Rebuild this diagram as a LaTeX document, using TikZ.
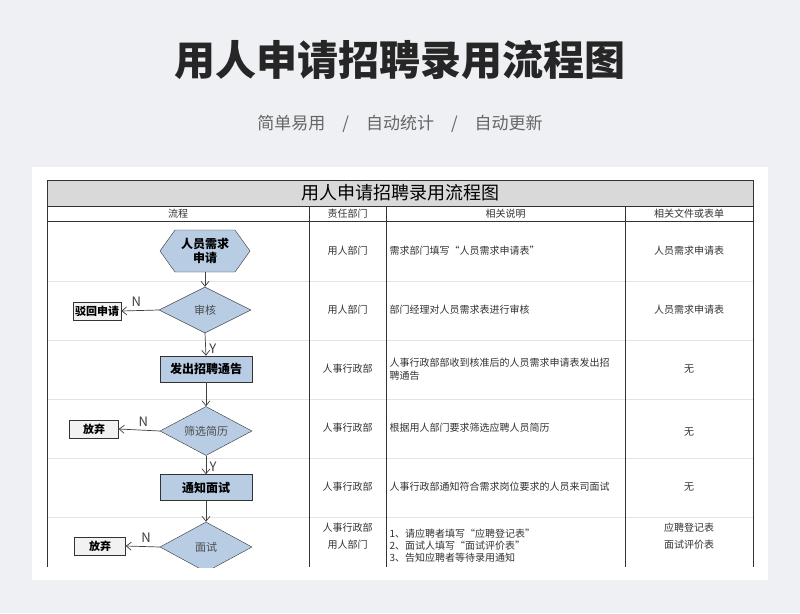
\documentclass[tikz,border=0pt]{standalone}
\usepackage{fontspec}
\setmainfont{Noto Sans CJK SC}
\usetikzlibrary{shapes.geometric,positioning,arrows.meta}
\definecolor{pagebg}{HTML}{EEF0F4}
\definecolor{flowblue}{HTML}{B8CCE4}
\definecolor{headgray}{HTML}{D9D9D9}
\definecolor{rowline}{HTML}{E4E4E4}
\tikzset{
  proc/.style={draw=black!80, fill=flowblue, minimum width=92pt, minimum height=26pt, font=\fontsize{12}{14}\selectfont\bfseries, inner sep=1pt},
  decide/.style={diamond, aspect=2, draw=black!80, fill=flowblue, minimum width=92pt, minimum height=46pt, inner sep=0pt, font=\fontsize{11}{13}\selectfont, text=black!70},
  sidebox/.style={draw=black!80, fill=black!5, minimum height=18pt, inner sep=2pt, font=\fontsize{11}{13}\selectfont\bfseries},
  cell/.style={font=\fontsize{10}{13}\selectfont, text=black!80},
  flow/.style={-{Straight Barb[length=5pt,width=8pt]}, black!75, line width=0.7pt},
  yn/.style={font=\fontsize{13}{15}\selectfont}
}
\begin{document}
\begin{tikzpicture}[x=1pt, y=-1pt]
    % page and card
    \fill[pagebg] (0,0) rectangle (800,613);
    \useasboundingbox (0,0) rectangle (800,613);
    \fill[white] (32,167) rectangle (768,580);
    \node[font=\fontsize{41}{44}\selectfont\bfseries, text=black!85] (maintitle) at (400,60) {用人申请招聘录用流程图};
    \node[font=\fontsize{17}{20}\selectfont, text=black!60] (subtitle) at (400,124) {简单易用\quad /\quad 自动统计\quad /\quad 自动更新};

    % table frame
    \fill[headgray] (47,180) rectangle (753,206);
    \foreach \y in {281,340,399,458,517}
        \draw[rowline] (47,\y) -- (753,\y);
    \draw[black!80] (47,206) -- (753,206);
    \draw[black!80] (47,221) -- (753,221);
    \draw[black!80, thick] (47,567) -- (47,180) -- (753,180) -- (753,567);
    \foreach \x in {309,386,625}
        \draw[black!80] (\x,206) -- (\x,567);
    \node[font=\fontsize{18}{20}\selectfont] (tabtitle) at (400,193) {用人申请招聘录用流程图};
    \node[cell] (h1) at (178,213.5) {流程};
    \node[cell] (h2) at (347.5,213.5) {责任部门};
    \node[cell] (h3) at (505.5,213.5) {相关说明};
    \node[cell] (h4) at (689,213.5) {相关文件或表单};

    % departments
    \node[cell] (d1) at (347.5,251) {用人部门};
    \node[cell] (d2) at (347.5,310) {用人部门};
    \node[cell] (d3) at (347.5,369) {人事行政部};
    \node[cell] (d4) at (347.5,428) {人事行政部};
    \node[cell] (d5) at (347.5,487) {人事行政部};
    \node[cell, align=center] (d6) at (347.5,536) {人事行政部\\[4pt]用人部门};

    % notes
    \node[cell, anchor=west] (n1) at (386,251) {需求部门填写“人员需求申请表”};
    \node[cell, anchor=west] (n2) at (386,310) {部门经理对人员需求表进行审核};
    \node[cell, anchor=west, align=left] (n3) at (386,369) {人事行政部部收到核准后的人员需求申请表发出招\\聘通告};
    \node[cell, anchor=west] (n4) at (386,428) {根据用人部门要求筛选应聘人员简历};
    \node[cell, anchor=west] (n5) at (386,487) {人事行政部通知符合需求岗位要求的人员来司面试};
    \node[cell, anchor=west, align=left, font=\fontsize{10}{12}\selectfont] (n6) at (386,546) {1、请应聘者填写“应聘登记表”\\2、面试人填写“面试评价表”\\3、告知应聘者等待录用通知};

    % forms
    \node[cell] (f1) at (689,251) {人员需求申请表};
    \node[cell] (f2) at (689,310) {人员需求申请表};
    \node[cell] (f3) at (689,369) {无};
    \node[cell] (f4) at (689,432) {无};
    \node[cell] (f5) at (689,487) {无};
    \node[cell, align=center] (f6) at (689,536) {应聘登记表\\[4pt]面试评价表};

    % flow chart
    \begin{scope}
    \clip (47,221) rectangle (309,567);
    \fill[flowblue, draw=black!80] (160,251) -- (175,230) -- (235,230) -- (250,251) -- (235,272) -- (175,272) -- cycle;
    \node[minimum width=90pt, minimum height=42pt, font=\fontsize{12}{14}\selectfont\bfseries, align=center] (startbox) at (205,251) {人员需求\\申请};
    \node[decide] (check) at (205,310) {审核};
    \node[proc] (notice) at (206,369) {发出招聘通告};
    \node[decide, minimum height=49pt] (screen) at (206,431) {筛选简历};
    \node[proc] (invite) at (206,487.5) {通知面试};
    \node[decide, minimum height=50pt] (interview) at (206,547) {面试};
    \node[sidebox] (reject) at (97,311) {驳回申请};
    \node[sidebox, minimum width=49pt] (quit1) at (94,429) {放弃};
    \node[sidebox, minimum width=51pt] (quit2) at (100,546) {放弃};

    \draw[flow] (startbox.south) -- (check.north);
    \draw[flow] (check.south) -- node[yn, right, pos=0.7] {Y} (notice.north);
    \draw[flow] (notice.south) -- (screen.north);
    \draw[flow] (screen.south) -- node[yn, right, pos=0.6] {Y} (invite.north);
    \draw[flow] (invite.south) -- (interview.north);
    \draw[flow] (check.west) -- node[yn, above, pos=0.6] {N} (reject.east);
    \draw[flow] (screen.west) -- node[yn, above, pos=0.4] {N} (quit1.east);
    \draw[flow] (interview.west) -- node[yn, above, pos=0.4] {N} (quit2.east);
    \end{scope}
\end{tikzpicture}
\end{document}
